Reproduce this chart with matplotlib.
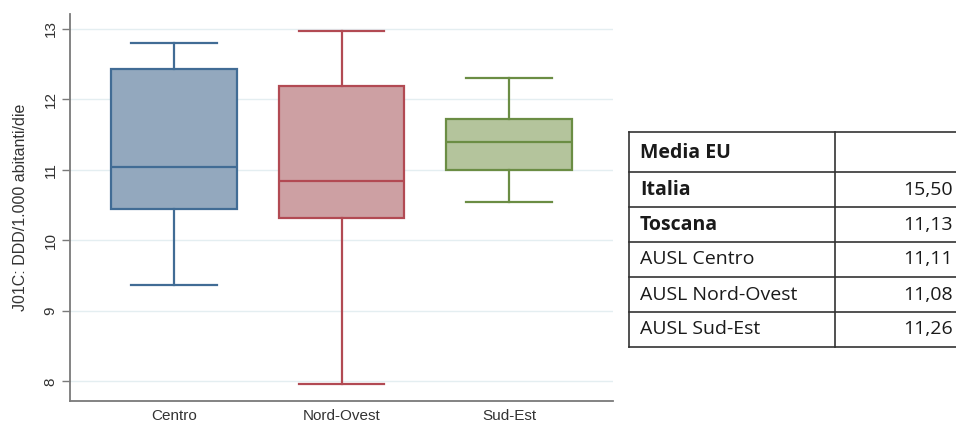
import matplotlib.pyplot as plt
from matplotlib.lines import Line2D

# J01C consumption by health district (DDD/1.000 abitanti/die)
groups = ["Centro", "Nord-Ovest", "Sud-Est"]
whis_lo = [9.37, 7.96, 10.55]
q1 = [10.44, 10.32, 11.00]
medians = [11.04, 10.84, 11.39]
q3 = [12.43, 12.19, 11.72]
whis_hi = [12.80, 12.97, 12.30]

fills = ["#93a8be", "#cda0a3", "#b4c49c"]
edges = ["#416c95", "#b24a53", "#6b8d44"]

# side table
table_labels = ["Media EU", "Italia", "Toscana", "AUSL Centro", "AUSL Nord-Ovest", "AUSL Sud-Est"]
table_values = ["", "15,50", "11,13", "11,11", "11,08", "11,26"]
table_bold = [True, True, True, False, False, False]

W, H = 956, 422
fig = plt.figure(figsize=(W / 100, H / 100), dpi=100)
ax = fig.add_axes([70 / W, 1 - 401 / H, (613 - 70) / W, (401 - 14) / H])

stats = []
for i, g in enumerate(groups):
    stats.append(dict(label=g, whislo=whis_lo[i], q1=q1[i], med=medians[i],
                      q3=q3[i], whishi=whis_hi[i], fliers=[]))

positions = [1, 2, 3]
bp = ax.bxp(stats, positions=positions, widths=0.75, patch_artist=True,
            showfliers=False, capwidths=0.51)
for i in range(3):
    bp["boxes"][i].set(facecolor=fills[i], edgecolor=edges[i], linewidth=1.6)
    bp["medians"][i].set(color=edges[i], linewidth=1.6)
    for line in bp["whiskers"][2 * i:2 * i + 2] + bp["caps"][2 * i:2 * i + 2]:
        line.set(color=edges[i], linewidth=1.6)

ax.set_xlim(0.38, 3.62)
ax.set_ylim(7.72, 13.21)
ax.set_yticks([8, 9, 10, 11, 12, 13])
ax.yaxis.grid(True, color="#e4eef1", linewidth=1.0)
ax.set_axisbelow(True)

for s in ["top", "right"]:
    ax.spines[s].set_visible(False)
for s in ["left", "bottom"]:
    ax.spines[s].set_color("#7a7a7a")
    ax.spines[s].set_linewidth(1.3)

ax.tick_params(axis="y", length=6, color="#7a7a7a", width=1.0, pad=3,
               labelsize=11, labelcolor="#333333", labelrotation=90)
for t in ax.get_yticklabels():
    t.set_va("center")
    t.set_family("Liberation Sans")
ax.tick_params(axis="x", length=0, pad=6, labelsize=11, labelcolor="#333333")
for t in ax.get_xticklabels():
    t.set_family("Liberation Sans")
ax.set_ylabel("J01C: DDD/1.000 abitanti/die", fontsize=11.5, color="#333333",
              family="Liberation Sans", labelpad=11)

# table drawn in pixel coordinates of the figure
row_edges = [132, 172, 207, 242, 277, 312, 347]
x_left, x_mid, x_right = 629, 835, 962


def fx(px):
    return px / W


def fy(py):
    return 1 - py / H


line_kw = dict(color="#333333", linewidth=1.2, transform=fig.transFigure)
for y in row_edges:
    fig.add_artist(Line2D([fx(x_left), fx(x_right)], [fy(y), fy(y)], **line_kw))
for x in [x_left, x_mid]:
    fig.add_artist(Line2D([fx(x), fx(x)], [fy(row_edges[0]), fy(row_edges[-1])], **line_kw))

for i, lab in enumerate(table_labels):
    yc = (row_edges[i] + row_edges[i + 1]) / 2 + (1 if i == 0 else 0)
    fig.text(fx(640), fy(yc), lab, fontsize=14, family="Open Sans",
             fontweight="bold" if table_bold[i] else "normal",
             va="center", ha="left", color="#1a1a1a")
    if table_values[i]:
        fig.text(fx(953), fy(yc), table_values[i], fontsize=14, family="Open Sans",
                 va="center", ha="right", color="#1a1a1a")

fig.savefig("out.png", dpi=100)
